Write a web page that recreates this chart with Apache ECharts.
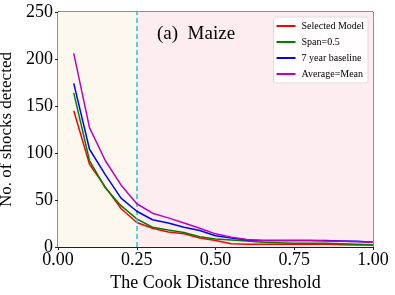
<!DOCTYPE html>
<html><head><meta charset="utf-8">
<script src="https://cdn.jsdelivr.net/npm/echarts@6/dist/echarts.min.js"></script>
<style>html,body{margin:0;padding:0;background:#fff}#c{width:395px;height:295px}</style>
</head><body><div id="c"></div>
<script>
const thresholds = [0.05,0.10,0.15,0.20,0.25,0.30,0.35,0.40,0.45,0.50,0.55,0.60,0.65,0.70,0.75,0.80,0.85,0.90,0.95,1.00];
const selectedModel = [145,88,64,41,26,20,16,14,9.5,7,3.5,3,3,3,3,3,3,2.5,2,2];
const span05 = [164,92,63,44,30,21,18,15.5,11,8.5,7.5,6.5,5,4.5,4,4,4,3.5,3,2.5];
const baseline7 = [174,104,77,52,38,29,25.5,21,17.5,12,9.5,7.5,7,7,7,7,7,6.5,6,5];
const averageMean = [206,127,92,66,46,36,31,25.5,20,14,10.5,8,7,7,7,7,6.5,6,5.5,5];
const seriesNames = ['Selected Model','Span=0.5','7 year baseline','Average=Mean'];
const seriesColors = ['#ff0000','#008000','#0000ff','#bf00bf'];
const cutoff = 0.25;
const yTicks = [0,50,100,150,200,250];
const xTicks = [0,0.25,0.5,0.75,1.0];

const font = '"Liberation Serif","DejaVu Serif",serif';
const allData = [selectedModel, span05, baseline7, averageMean];
const series = allData.map((d,i)=>({
  name: seriesNames[i], type:'line', symbol:'none',
  data: thresholds.map((x,j)=>[x,d[j]]),
  lineStyle:{color:seriesColors[i], width:1.5}, itemStyle:{color:seriesColors[i]},
  z: 3+i
}));
series.push({
  type:'line', data:[], silent:true,
  markArea:{silent:true, data:[
    [{xAxis:0, itemStyle:{color:'#fcf8ed'}},{xAxis:cutoff}],
    [{xAxis:cutoff, itemStyle:{color:'#fdedf1'}},{xAxis:1}]
  ]},
  markLine:{silent:true, symbol:'none', label:{show:false},
    lineStyle:{color:'#2ec5c8', type:[5,3], width:1.5},
    data:[{xAxis:cutoff}]},
  z:1
});
const chart = echarts.init(document.getElementById('c'));
chart.setOption({
  animation:false,
  grid:{left:58, right:22, top:12, bottom:48, show:true, borderColor:'#222', borderWidth:1, containLabel:false, outerBoundsMode:'none'},
  title:{text:'(a)  Maize', left:152, top:20,
    textStyle:{fontFamily:font, fontSize:19, fontWeight:'normal', color:'#000'}},
  legend:{
    data: seriesNames, right:27, top:17, orient:'vertical', icon:'rect',
    backgroundColor:'rgba(255,255,255,0.85)', borderColor:'#ddd', borderWidth:1, borderRadius:2,
    padding:[4,4,4,3], itemWidth:19, itemHeight:2, itemGap:6,
    textStyle:{fontFamily:font, fontSize:10, color:'#000', padding:[0,0,0,1]}
  },
  xAxis:{type:'value', min:0, max:1, interval:0.25,
    name:'The Cook Distance threshold', nameLocation:'middle', nameGap:27,
    nameTextStyle:{fontFamily:font, fontSize:18, color:'#000'},
    axisLine:{show:true, lineStyle:{color:'#222'}}, axisTick:{show:true, length:3, lineStyle:{color:'#222'}},
    splitLine:{show:false},
    axisLabel:{fontFamily:font, fontSize:18, color:'#000', margin:4, formatter:v=>v.toFixed(2)}
  },
  yAxis:{type:'value', min:0, max:250, interval:50,
    name:'No. of shocks detected', nameLocation:'middle', nameGap:32,
    nameTextStyle:{fontFamily:font, fontSize:17, color:'#000'},
    axisLine:{show:true, lineStyle:{color:'#222'}}, axisTick:{show:true, length:3, lineStyle:{color:'#222'}},
    splitLine:{show:false},
    axisLabel:{fontFamily:font, fontSize:18, color:'#000', margin:5}
  },
  series: series
});
</script></body></html>
